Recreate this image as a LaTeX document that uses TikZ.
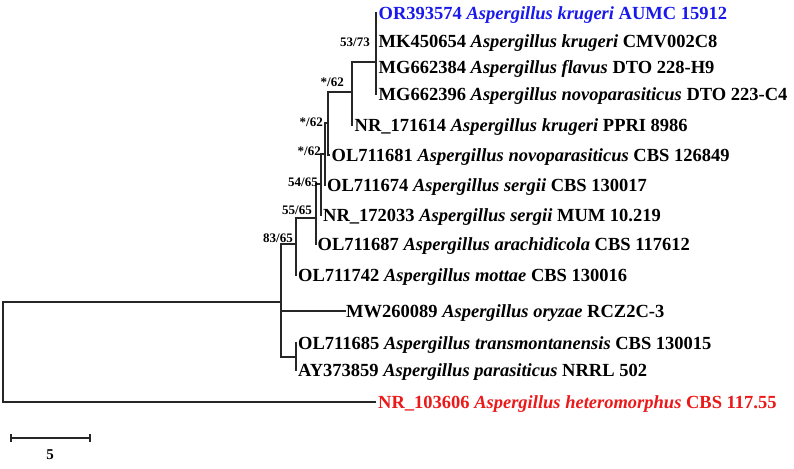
\documentclass[tikz,border=0pt]{standalone}
\usepackage{fontspec}
\setmainfont{Liberation Serif}
\usetikzlibrary{calc}
\definecolor{tipblue}{RGB}{25,25,235}
\definecolor{tipred}{RGB}{235,25,25}
\newcommand\taxon[3]{#1 \textit{#2} #3}
\tikzset{
  branch/.style={line width=1.5pt, line cap=rect, draw=black!85},
  tiplabel/.style={anchor=base west, inner sep=0pt, font=\fontsize{18.5}{20}\selectfont\bfseries},
  boot/.style={anchor=east, inner sep=0pt, font=\fontsize{13}{14}\selectfont\bfseries},
}
\begin{document}
\begin{tikzpicture}[x=1pt,y=-1pt]
\useasboundingbox (0,0) rectangle (794,468);
% internal nodes
\coordinate (r)  at (3,352);
\coordinate (n8) at (281,302);
\coordinate (n9) at (296,357);
\coordinate (n7) at (296,244);
\coordinate (n6) at (316,218);
\coordinate (n5) at (321,184);
\coordinate (n4) at (325,154);
\coordinate (n3) at (328,123);
\coordinate (n2) at (352,92);
\coordinate (n1) at (376,62);
% tips
\coordinate (t1)  at (376,13);
\coordinate (t2)  at (376,41);
\coordinate (t3)  at (376,67);
\coordinate (t4)  at (376,94);
\coordinate (t5)  at (352,125);
\coordinate (t6)  at (329,155);
\coordinate (t7)  at (325,185);
\coordinate (t8)  at (321,215);
\coordinate (t9)  at (316,244);
\coordinate (t10) at (296,275);
\coordinate (t11) at (345,311);
\coordinate (t12) at (296,343);
\coordinate (t13) at (296,370);
\coordinate (t14) at (375,402);
% branches
\draw[branch] (r) |- (n8);
\draw[branch] (r) |- (t14);
\draw[branch] (n8) |- (n7);
\draw[branch] (n8) |- (t11);
\draw[branch] (n8) |- (n9);
\draw[branch] (n9) |- (t12);
\draw[branch] (n9) |- (t13);
\draw[branch] (n7) |- (n6);
\draw[branch] (n7) |- (t10);
\draw[branch] (n6) |- (n5);
\draw[branch] (n6) |- (t9);
\draw[branch] (n5) |- (n4);
\draw[branch] (n5) |- (t8);
\draw[branch] (n4) |- (n3);
\draw[branch] (n4) |- (t7);
\draw[branch] (n3) |- (n2);
\draw[branch] (n3) |- (t6);
\draw[branch] (n2) |- (n1);
\draw[branch] (n2) |- (t5);
\draw[branch] (n1) |- (t1);
\draw[branch] (n1) |- (t2);
\draw[branch] (n1) |- (t3);
\draw[branch] (n1) |- (t4);
% tip labels
\node[tiplabel, text=tipblue] (l1) at ($(t1)+(2.5,6.2)$) {\taxon{OR393574}{Aspergillus krugeri}{AUMC 15912}};
\node[tiplabel] (l2) at ($(t2)+(2.5,6.2)$) {\taxon{MK450654}{Aspergillus krugeri}{CMV002C8}};
\node[tiplabel] (l3) at ($(t3)+(2.5,6.2)$) {\taxon{MG662384}{Aspergillus flavus}{DTO 228-H9}};
\node[tiplabel] (l4) at ($(t4)+(2.5,6.2)$) {\taxon{MG662396}{Aspergillus novoparasiticus}{DTO 223-C4}};
\node[tiplabel] (l5) at ($(t5)+(2.5,6.2)$) {\taxon{NR\_171614}{Aspergillus krugeri}{PPRI 8986}};
\node[tiplabel] (l6) at ($(t6)+(2.5,6.2)$) {\taxon{OL711681}{Aspergillus novoparasiticus}{CBS 126849}};
\node[tiplabel] (l7) at ($(t7)+(2,6.2)$) {\taxon{OL711674}{Aspergillus sergii}{CBS 130017}};
\node[tiplabel] (l8) at ($(t8)+(2,6.2)$) {\taxon{NR\_172033}{Aspergillus sergii}{MUM 10.219}};
\node[tiplabel] (l9) at ($(t9)+(1.5,6.2)$) {\taxon{OL711687}{Aspergillus arachidicola}{CBS 117612}};
\node[tiplabel] (l10) at ($(t10)+(2,6.2)$) {\taxon{OL711742}{Aspergillus mottae}{CBS 130016}};
\node[tiplabel] (l11) at ($(t11)+(1,6.2)$) {\taxon{MW260089}{Aspergillus oryzae}{RCZ2C-3}};
\node[tiplabel] (l12) at ($(t12)+(2,6.2)$) {\taxon{OL711685}{Aspergillus transmontanensis}{CBS 130015}};
\node[tiplabel] (l13) at ($(t13)+(2,6.2)$) {\taxon{AY373859}{Aspergillus parasiticus}{NRRL 502}};
\node[tiplabel, text=tipred] (l14) at ($(t14)+(3,6.2)$) {\taxon{NR\_103606}{Aspergillus heteromorphus}{CBS 117.55}};
% bootstrap values
\node[boot] (b1) at (370,42) {53/73};
\node[boot] (b2) at (344,82) {*/62};
\node[boot] (b3) at (323,122) {*/62};
\node[boot] (b4) at (321,151) {*/62};
\node[boot] (b5) at (318,182) {54/65};
\node[boot] (b6) at (312,210) {55/65};
\node[boot] (b7) at (293,238) {83/65};
% scale bar
\coordinate (s1) at (11,438);
\coordinate (s2) at (90,438);
\draw[branch, line cap=butt] (s1) -- (s2);
\draw[line width=1.2pt, draw=black!85] ($(s1)+(0,-4)$) -- ($(s1)+(0,4)$);
\draw[line width=1.2pt, draw=black!85] ($(s2)+(0,-4)$) -- ($(s2)+(0,4)$);
\node[inner sep=0pt, font=\fontsize{15}{16}\selectfont\bfseries] (sl) at (50,455) {5};
\end{tikzpicture}
\end{document}
